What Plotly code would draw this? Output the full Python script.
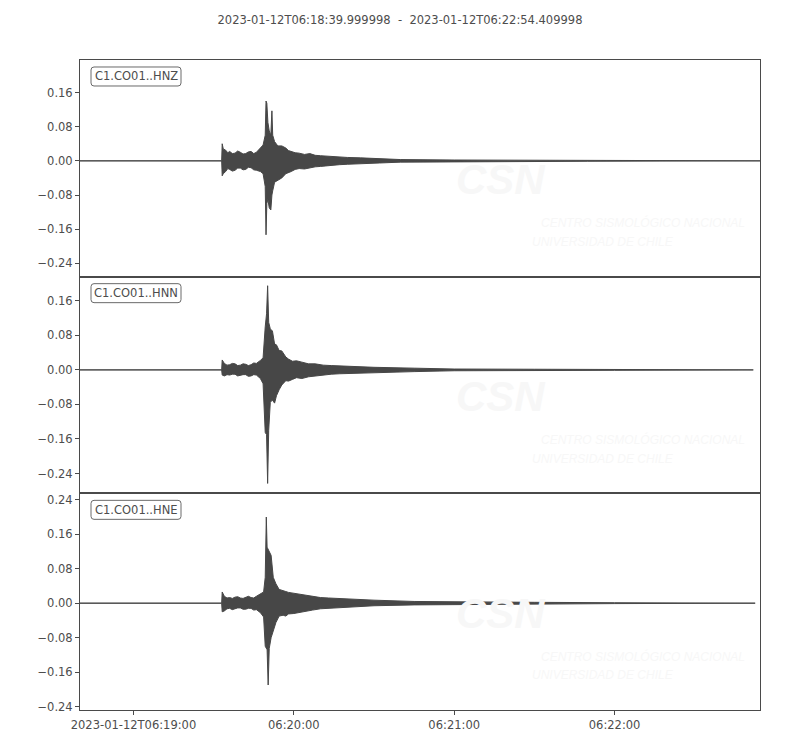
import pandas as pd
import plotly.graph_objects as go
from plotly.subplots import make_subplots

# ---------------- data ----------------
START = "2023-01-12T06:18:39.999998"
END = "2023-01-12T06:22:54.409998"
TITLE = "2023-01-12T06:18:39.999998  -  2023-01-12T06:22:54.409998"

labels = ["C1.CO01..HNZ", "C1.CO01..HNN", "C1.CO01..HNE"]

# envelope of each trace: seconds after START, upper and lower amplitude
hnz_t = [0, 53.0, 53.2, 53.6, 54.5, 55.3, 56, 57, 58, 59, 60, 61, 62, 63, 64, 65, 66, 67.5,
         68.5, 69.3, 69.6, 69.9, 70.3, 70.8, 71.4, 71.8, 72.1, 72.8, 74, 75.5, 77, 78, 79, 80.5,
         82, 84, 86, 88, 90, 92, 94, 97, 100, 105, 112, 120, 140, 160, 190, 220, 254.41]
hnz_up = [0, 0, 0.040, 0.028, 0.025, 0.019, 0.022, 0.017, 0.018, 0.023, 0.020, 0.016, 0.017,
          0.021, 0.022, 0.017, 0.020, 0.030, 0.037, 0.060, 0.140, 0.135, 0.090, 0.070, 0.060,
          0.117, 0.060, 0.045, 0.035, 0.035, 0.030, 0.024, 0.022, 0.019, 0.018, 0.015, 0.017,
          0.013, 0.012, 0.011, 0.010, 0.009, 0.008, 0.007, 0.005, 0.003, 0.002, 0.0015, 0.001,
          0.0005, 0]
hnz_lo = [0, 0, -0.035, -0.030, -0.025, -0.018, -0.020, -0.024, -0.022, -0.017, -0.017,
          -0.021, -0.020, -0.015, -0.016, -0.021, -0.022, -0.025, -0.030, -0.060, -0.173,
          -0.100, -0.090, -0.110, -0.115, -0.080, -0.070, -0.050, -0.045, -0.040, -0.030,
          -0.028, -0.025, -0.020, -0.018, -0.019, -0.016, -0.014, -0.013, -0.011, -0.010,
          -0.009, -0.008, -0.006, -0.005, -0.003, -0.002, -0.0015, -0.001, -0.0005, 0]

hnn_t = [0, 53.0, 53.2, 54, 55, 56, 57, 58, 59, 60, 61, 62, 63, 64, 65, 66, 67.5, 68.5, 69.3,
         69.8, 70.2, 70.6, 71.2, 72.0, 72.8, 73.5, 74.5, 75.5, 77, 78, 79.5, 81, 83, 85.5, 88,
         91, 94, 97, 100, 110, 125, 140, 170, 200, 251.9]
hnn_up = [0, 0, 0.023, 0.015, 0.011, 0.012, 0.015, 0.014, 0.010, 0.011, 0.014, 0.013, 0.010,
          0.012, 0.016, 0.015, 0.022, 0.028, 0.100, 0.130, 0.195, 0.110, 0.095, 0.090, 0.060,
          0.058, 0.045, 0.044, 0.030, 0.025, 0.020, 0.021, 0.018, 0.014, 0.014, 0.011, 0.010,
          0.009, 0.008, 0.006, 0.004, 0.002, 0.0015, 0.001, 0]
hnn_lo = [0, 0, -0.012, -0.014, -0.011, -0.012, -0.010, -0.010, -0.014, -0.013, -0.011,
          -0.011, -0.015, -0.014, -0.011, -0.012, -0.020, -0.032, -0.145, -0.150, -0.263,
          -0.140, -0.075, -0.070, -0.077, -0.060, -0.046, -0.035, -0.025, -0.026, -0.022,
          -0.018, -0.020, -0.016, -0.015, -0.012, -0.010, -0.009, -0.008, -0.006, -0.004,
          -0.002, -0.0015, -0.001, 0]

hne_t = [0, 53.0, 53.2, 54, 55, 56, 57, 58, 59, 60, 61, 62, 63, 64, 65, 66, 67.5, 68.7, 69.3,
         69.7, 70.0, 70.4, 70.8, 71.5, 72.3, 73.3, 74.5, 76, 77, 78, 80, 82, 84, 87, 90, 93, 96,
         102, 110, 125, 140, 170, 200, 252.6]
hne_up = [0, 0, 0.026, 0.016, 0.012, 0.013, 0.011, 0.014, 0.015, 0.012, 0.011, 0.014, 0.016,
          0.013, 0.012, 0.016, 0.022, 0.026, 0.060, 0.200, 0.130, 0.125, 0.120, 0.111, 0.060,
          0.045, 0.032, 0.030, 0.027, 0.025, 0.023, 0.021, 0.018, 0.015, 0.013, 0.012, 0.011,
          0.009, 0.007, 0.004, 0.003, 0.002, 0.001, 0]
hne_lo = [0, 0, -0.020, -0.018, -0.013, -0.012, -0.015, -0.013, -0.011, -0.011, -0.014,
          -0.014, -0.012, -0.012, -0.016, -0.015, -0.022, -0.032, -0.100, -0.105, -0.108,
          -0.190, -0.105, -0.080, -0.067, -0.045, -0.030, -0.028, -0.030, -0.025, -0.024,
          -0.022, -0.020, -0.016, -0.013, -0.012, -0.011, -0.009, -0.006, -0.004, -0.003,
          -0.002, -0.001, 0]

y_ranges = [[-0.271, 0.236], [-0.286, 0.216], [-0.248, 0.255]]
x_tickvals = ["2023-01-12T06:19:00", "2023-01-12T06:20:00", "2023-01-12T06:21:00", "2023-01-12T06:22:00"]
x_ticktext = ["2023-01-12T06:19:00", "06:20:00", "06:21:00", "06:22:00"]

# ---------------- figure ----------------
TXT = "#4d4d4d"
WAVE = "#474747"
AX = "#4a4a4a"
FONT = "DejaVu Sans"
WM = "#f7f7f7"

start = pd.Timestamp(START)
traces = [(hnz_t, hnz_up, hnz_lo), (hnn_t, hnn_up, hnn_lo), (hne_t, hne_up, hne_lo)]

fig = make_subplots(rows=3, cols=1, shared_xaxes=True, vertical_spacing=0)

for i, (t, up, lo) in enumerate(traces):
    tt = list(t) + list(t)[::-1]
    yy = list(up) + list(lo)[::-1]
    xx = [start + pd.to_timedelta(v, unit="s") for v in tt]
    fig.add_trace(go.Scatter(x=xx, y=yy, mode="lines", fill="toself",
                             fillcolor=WAVE, line=dict(color=WAVE, width=1),
                             hoverinfo="skip", showlegend=False), row=i + 1, col=1)

PW, PH = 680, 216.7


def rounded_box(x0, y0, w, h, r):
    """Rounded rectangle path in axis-domain units, given pixel offsets from the top-left."""
    X = lambda px: px / PW
    Y = lambda py: 1 - py / PH
    return (f"M {X(x0 + r)} {Y(y0)} L {X(x0 + w - r)} {Y(y0)} "
            f"Q {X(x0 + w)} {Y(y0)} {X(x0 + w)} {Y(y0 + r)} "
            f"L {X(x0 + w)} {Y(y0 + h - r)} Q {X(x0 + w)} {Y(y0 + h)} {X(x0 + w - r)} {Y(y0 + h)} "
            f"L {X(x0 + r)} {Y(y0 + h)} Q {X(x0)} {Y(y0 + h)} {X(x0)} {Y(y0 + h - r)} "
            f"L {X(x0)} {Y(y0 + r)} Q {X(x0)} {Y(y0)} {X(x0 + r)} {Y(y0)} Z")


for i in range(3):
    r = i + 1
    fig.update_yaxes(range=y_ranges[i], dtick=0.08, tick0=0, tickformat=".2f",
                     showgrid=False, zeroline=False, showline=True, linecolor=AX,
                     linewidth=1, mirror=True, ticks="outside", ticklen=4,
                     tickcolor=AX, tickfont=dict(family=FONT, size=11.5, color=TXT),
                     row=r, col=1)
    fig.update_xaxes(range=[START, END], showgrid=False, zeroline=False, showline=True,
                     linecolor=AX, linewidth=1, mirror=True, row=r, col=1)
    xname = "x" if r == 1 else f"x{r}"
    yname = "y" if r == 1 else f"y{r}"
    # faint watermark
    fig.add_annotation(text="<b>CSN</b>", xref=f"{xname} domain", yref=f"{yname} domain",
                       x=(501 - 80) / PW, y=1 - 120 / PH, xanchor="center", yanchor="middle",
                       showarrow=False, borderpad=0,
                       font=dict(family="Liberation Sans", size=42, color=WM, style="italic"))
    fig.add_annotation(text="CENTRO SISMOLÓGICO NACIONAL", xref=f"{xname} domain",
                       yref=f"{yname} domain", x=(643 - 80) / PW, y=1 - 163 / PH,
                       xanchor="center", yanchor="middle", showarrow=False, borderpad=0,
                       font=dict(family="Liberation Sans", size=12, color=WM, style="italic"))
    fig.add_annotation(text="UNIVERSIDAD DE CHILE", xref=f"{xname} domain",
                       yref=f"{yname} domain", x=(603 - 80) / PW, y=1 - 182 / PH,
                       xanchor="center", yanchor="middle", showarrow=False, borderpad=0,
                       font=dict(family="Liberation Sans", size=12, color=WM, style="italic"))
    # channel label box (rounded)
    fig.add_shape(type="path", path=rounded_box(11, 7, 90, 19, 3),
                  xref=f"{xname} domain", yref=f"{yname} domain",
                  line=dict(color="#6a6a6a", width=1), fillcolor="white", layer="above")
    fig.add_annotation(text=labels[i], xref=f"{xname} domain", yref=f"{yname} domain",
                       x=56 / PW, y=1 - 16.5 / PH, xanchor="center", yanchor="middle",
                       showarrow=False, font=dict(family=FONT, size=11.5, color=TXT))

fig.update_xaxes(tickvals=x_tickvals, ticktext=x_ticktext, ticks="outside", ticklen=4,
                 tickcolor=AX, tickfont=dict(family=FONT, size=11.5, color=TXT), row=3, col=1)

fig.update_layout(
    width=800, height=750,
    margin=dict(l=72, r=48, t=52, b=48),
    paper_bgcolor="white", plot_bgcolor="white",
    title=dict(text=TITLE, x=392 / 800, xanchor="center", y=1 - 12 / 750, yanchor="middle",
               font=dict(family=FONT, size=11.5, color=TXT)),
    showlegend=False,
)

fig.write_html("out.html")
